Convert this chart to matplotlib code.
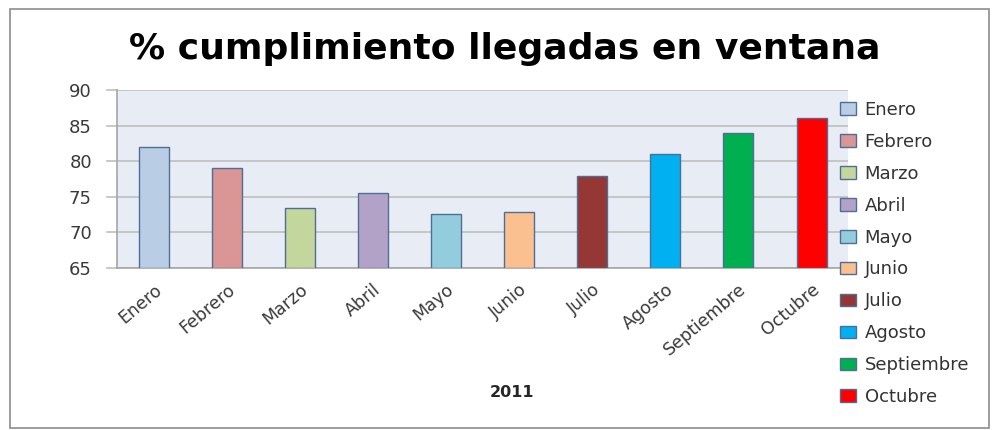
import matplotlib
matplotlib.use("Agg")
import matplotlib.pyplot as plt
from matplotlib.patches import Patch, Rectangle

# datos de cumplimiento por mes
meses = ["Enero", "Febrero", "Marzo", "Abril", "Mayo", "Junio",
         "Julio", "Agosto", "Septiembre", "Octubre"]
cumplimiento = [82, 79, 73.4, 75.5, 72.6, 72.8, 77.9, 81, 84, 86]
colores = ["#b9cde5", "#d99694", "#c3d69b", "#b3a2c7", "#93cddd",
           "#fac090", "#953735", "#00b0f0", "#00b050", "#ff0000"]
yticks = [65, 70, 75, 80, 85, 90]

plt.rcParams['font.family'] = ['DejaVu Sans']

fig = plt.figure(figsize=(9.94, 4.30), dpi=100)
fig.patch.set_facecolor("white")

# marco exterior del grafico
fig.patches.append(Rectangle((0.010, 0.005), 0.985, 0.975, transform=fig.transFigure,
                             fill=False, edgecolor="#8c8c8c", linewidth=1.2))

ax = fig.add_axes([0.1177, 0.3767, 0.7355, 0.414])
ax.set_facecolor("#e8ecf4")

x = range(len(meses))
ax.bar(x, [v - yticks[0] for v in cumplimiento], bottom=yticks[0], width=0.41,
       color=colores, edgecolor="#4f6d96", linewidth=1.0, zorder=3)

ax.set_ylim(yticks[0], yticks[-1])
ax.set_xlim(-0.5, len(meses) - 0.5)
ax.set_yticks(yticks)
ax.yaxis.grid(True, color="#bfbfbf", linewidth=1.2, zorder=0)
ax.set_axisbelow(True)

for side in ["top", "right"]:
    ax.spines[side].set_visible(False)
ax.spines["left"].set_color("#a6a6a6")
ax.spines["bottom"].set_color("#a6a6a6")
ax.spines["left"].set_linewidth(1.2)
ax.spines["bottom"].set_linewidth(1.2)

ax.tick_params(axis="y", length=0, labelsize=13, pad=18, colors="#3a3a3a")
ax.tick_params(axis="x", length=0, labelsize=12.5, pad=9, colors="#3a3a3a")
ax.set_xticks(list(x))
ax.set_xticklabels(meses, rotation=40, ha="right", rotation_mode="anchor")
# las lineas de grid se extienden un poco a la izquierda del eje
for y in yticks:
    ax.plot([-0.63, -0.5], [y, y], color="#bfbfbf", linewidth=1.2, clip_on=False, zorder=1)

fig.text(0.508, 0.885, "% cumplimiento llegadas en ventana", ha="center", va="center",
         fontsize=26, fontweight="bold", color="black")
fig.text(0.515, 0.088, "2011", ha="center", va="center", fontsize=11.5,
         fontweight="bold", color="#262626")

handles = [Patch(facecolor=c, edgecolor="#4f6d96", label=m) for m, c in zip(meses, colores)]
fig.legend(handles=handles, loc="upper left", bbox_to_anchor=(0.838, 0.782),
           frameon=False, fontsize=13, handlelength=0.9, handleheight=0.7,
           handletextpad=0.45, labelspacing=0.77, borderaxespad=0,
           labelcolor="#333333")

fig.savefig("out.png", dpi=100)
